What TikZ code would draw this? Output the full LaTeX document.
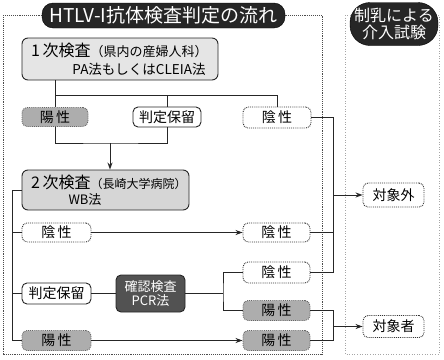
\documentclass[tikz,border=0pt]{standalone}
\usepackage{fontspec}
\setmainfont{Noto Sans CJK JP}
\usetikzlibrary{arrows.meta}
\begin{document}
\begin{tikzpicture}[x=1pt,y=-1pt,
  conn/.style={line width=1pt,black!85},
  arr/.style={conn,-{Stealth[length=7pt,width=5pt]}},
  frame/.style={densely dotted,line width=0.9pt,black!70},
  pale/.style={dotted,line width=0.6pt,black!35},
  wbox/.style={draw=black!80,densely dotted,line width=0.9pt,rounded corners=5pt,fill=white,inner sep=0pt,font=\fontsize{14}{14}\selectfont},
  sbox/.style={draw=black!85,line width=0.9pt,rounded corners=5pt,fill=white,inner sep=0pt,font=\fontsize{14}{14}\selectfont},
  gbox/.style={draw=black!60,densely dotted,line width=0.9pt,rounded corners=5pt,fill=black!32,inner sep=0pt,font=\fontsize{14}{14}\selectfont},
  bigbox/.style={draw=black!85,line width=0.9pt,rounded corners=6pt,inner sep=0pt},
  pill/.style={fill=black!85,draw=black,rounded corners=11pt,inner sep=0pt,text=white},
  txt/.style={inner sep=0pt,anchor=west}
]
\useasboundingbox (0,0) rectangle (444,359);
% frames
\draw[frame] (3,15) rectangle (322,354);
\draw[pale] (345,15) rectangle (439,354);
% titles
\node[pill,minimum width=243,minimum height=25,font=\fontsize{19}{19}\selectfont] (title) at (163.5,15.5) {HTLV-I抗体検査判定の流れ};
\node[pill,rounded corners=20pt,minimum width=88,minimum height=43,align=center,font=\fontsize{16}{17}\selectfont] (rtitle) at (394,24) {制乳による\\介入試験};
% first exam
\node[bigbox,fill=black!10,minimum width=196,minimum height=42] (b1) at (120,59) {};
\node[txt] (b1a) at (31,50) {\fontsize{16}{16}\selectfont 1\,次検査\fontsize{13}{13}\selectfont（県内の産婦人科）};
\node[inner sep=0pt] (b1b) at (139,69) {\fontsize{13.5}{13.5}\selectfont PA法もしくはCLEIA法};
% row 2
\node[gbox,minimum width=66,minimum height=19] (p1) at (55,117) {陽\,性};
\node[sbox,minimum width=68,minimum height=20] (h1) at (167,117) {判定保留};
\node[wbox,minimum width=68,minimum height=21] (n1) at (277,117.5) {陰\,性};
\coordinate (j) at (55,95);
\draw[conn] (p1.north |- b1.south) -- (p1.north);
\draw[conn] (j) -| (n1.north);
\draw[conn] (h1.north) -- (h1.north |- j);
\coordinate (m) at (110,143);
\draw[conn] (p1.south) |- (m) -| (h1.south);
% second exam
\node[bigbox,fill=black!16,minimum width=167,minimum height=40] (b2) at (105.5,190) {};
\node[txt] (b2a) at (31,182) {\fontsize{16}{16}\selectfont 2\,次検査\fontsize{12}{12}\selectfont（長崎大学病院）};
\node[inner sep=0pt] (b2b) at (85,200) {\fontsize{13}{13}\selectfont WB法};
\draw[arr] (m) -- (m |- b2.north);
% lower rows
\node[wbox,minimum width=69,minimum height=19] (n4) at (56.5,232.5) {陰\,性};
\node[wbox,minimum width=67,minimum height=19] (n2) at (276.5,232.5) {陰\,性};
\node[sbox,minimum width=69,minimum height=21] (h2) at (56.5,293.5) {判定保留};
\node[bigbox,fill=black!68,rounded corners=5pt,minimum width=69,minimum height=37,align=center,text=white,font=\fontsize{13}{14}\selectfont] (pcr) at (150.5,293.5) {確認検査\\PCR法};
\node[wbox,minimum width=67,minimum height=21] (n3) at (276.5,272.5) {陰\,性};
\node[gbox,minimum width=67,minimum height=20] (y2) at (276.5,310.5) {陽\,性};
\node[gbox,minimum width=69,minimum height=20] (y1) at (56.5,340.5) {陽\,性};
\node[gbox,minimum width=67,minimum height=20] (y3) at (276.5,340.5) {陽\,性};
% outcomes
\node[wbox,minimum width=61,minimum height=24] (ng) at (393.5,195) {対象外};
\node[wbox,minimum width=61,minimum height=22] (tg) at (393.5,326.5) {対象者};
% left trunk
\coordinate (lc) at (12,340.5);
\draw[conn] (b2.west) -| (lc) -- (y1.west);
\draw[conn] (lc |- n4.west) -- (n4.west);
\draw[conn] (lc |- h2.west) -- (h2.west);
\draw[arr] (n4.east) -- (n2.west);
\draw[arr] (y1.east) -- (y3.west);
\draw[conn] (h2.east) -- (pcr.west);
\coordinate (fk) at (223,293.5);
\draw[conn] (pcr.east) -- (fk);
\draw[conn] (n3.west) -| (fk) |- (y2.west);
% right trunks
\coordinate (rb) at (333,272.5);
\draw[conn] (n1.east) -| (rb) -- (n3.east);
\draw[conn] (n2.east) -- (n2.east -| rb);
\draw[arr] (rb |- ng.west) -- (ng.west);
\coordinate (rc) at (333,340.5);
\draw[conn] (y2.east) -| (rc) -- (y3.east);
\draw[arr] (rc |- tg.west) -- (tg.west);
\end{tikzpicture}
\end{document}
